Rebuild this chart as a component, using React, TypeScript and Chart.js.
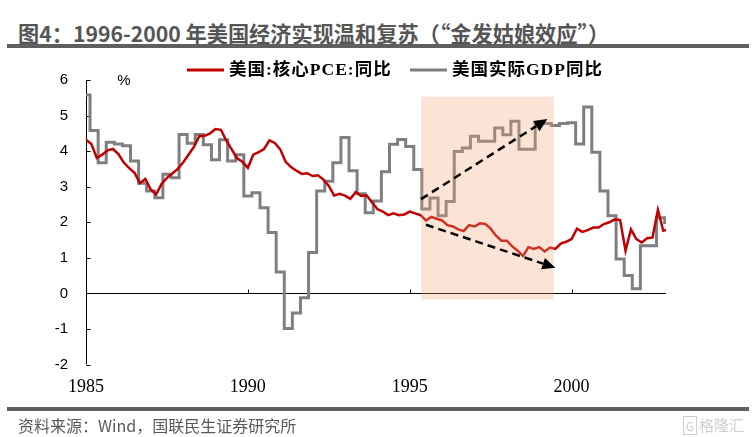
"use client";

import React, { useEffect, useRef } from "react";
import { Chart, registerables, type ChartConfiguration, type Plugin } from "chart.js";

Chart.register(...registerables);

// core PCE yoy (%), one reading every two months starting Jan 1985
const pceFirstYear = 1985;
const pceValues = [
  4.32, 4.2, 3.81, 3.9, 4.02, 4.06,
  3.92, 3.68, 3.52, 3.39, 3.1, 3.22,
  2.92, 2.78, 3.08, 3.25, 3.37, 3.5,
  3.68, 3.9, 4.12, 4.42, 4.43, 4.5,
  4.62, 4.6, 4.3, 4.05, 3.8, 3.7,
  3.53, 3.9, 3.97, 4.06, 4.3, 4.23,
  4.05, 3.7, 3.55, 3.45, 3.36, 3.38,
  3.3, 3.32, 3.2, 3.02, 2.75, 2.8,
  2.75, 2.66, 2.85, 2.74, 2.76, 2.56,
  2.37, 2.3, 2.2, 2.25, 2.2, 2.22,
  2.3, 2.25, 2.2, 2.05, 2.15, 2.1,
  2.05, 1.92, 1.88, 1.8, 1.75, 1.92,
  1.88, 1.97, 1.95, 1.82, 1.62, 1.48,
  1.48, 1.32, 1.2, 1.05, 1.3, 1.25,
  1.3, 1.18, 1.29, 1.25, 1.4, 1.45,
  1.53, 1.82, 1.73, 1.78, 1.85, 1.85,
  1.95, 2.0, 2.08, 2.06, 1.2, 1.8,
  1.53, 1.43, 1.55, 1.57, 2.35, 1.76,
  1.8,
];

// real GDP yoy (%), quarterly starting 1984Q4
const gdpFirstYear = 1984;
const gdpFirstQuarter = 4;
const gdpValues = [
  5.58,
  4.58, 3.67, 4.25, 4.2,
  4.15, 3.72, 3.1, 2.88,
  2.69, 3.35, 3.25, 4.47,
  4.22, 4.47, 4.18, 3.76,
  4.32, 3.72, 3.9, 2.74,
  2.83, 2.41, 1.71, 0.6,
  -0.99, -0.55, -0.12, 1.15,
  2.88, 3.15, 3.67, 4.38,
  3.45, 2.8, 2.27, 2.6,
  3.42, 4.19, 4.33, 4.13,
  3.48, 2.37, 2.68, 2.18,
  2.58, 3.99, 4.09, 4.42,
  4.28, 4.28, 4.65, 4.46,
  4.84, 4.05, 4.05, 4.78,
  4.78, 4.72, 4.78, 4.8,
  4.2, 5.24, 3.97, 2.88,
  2.18, 0.97, 0.5, 0.13,
  1.34, 1.34, 2.13, 1.99,
];

const seriesNames = ["美国:核心PCE:同比", "美国实际GDP同比"];
const seriesColors = ["#C00000", "#7F7F7F"];

const xTickYears = [1985, 1990, 1995, 2000];
const xMin = 1985;
const xMax = 2002 + 11 / 12;
const yMin = -2;
const yMax = 6;

// shaded 1996-2000 window and the two trend arrows, in data units
const goldilocks = { start: 1995.35, end: 1999.45, low: -0.17, high: 5.53 };
const trendArrows = [
  { x0: 1995.35, y0: 2.65, x1: 1999.25, y1: 4.9 },
  { x0: 1995.5, y0: 1.93, x1: 1999.5, y1: 0.72 },
];

const pcePoints = pceValues.map((v, i) => ({ x: pceFirstYear + i / 6, y: v }));

// each quarter is plotted from the middle of its first month
const gdpStart = gdpFirstYear + (gdpFirstQuarter - 1) / 4 + 1 / 8;
const gdpPoints = gdpValues.map((v, i) => ({ x: gdpStart + i / 4, y: v }));
gdpPoints.push({ x: gdpStart + gdpValues.length / 4, y: gdpValues[gdpValues.length - 1] });

const cjk = '"Noto Sans CJK SC", sans-serif';

function drawArrow(ctx: CanvasRenderingContext2D, x0: number, y0: number, x1: number, y1: number) {
  const ang = Math.atan2(y1 - y0, x1 - x0);
  const head = 13;
  const half = 6;
  const bx = x1 - head * Math.cos(ang);
  const by = y1 - head * Math.sin(ang);
  ctx.strokeStyle = "#000";
  ctx.fillStyle = "#000";
  ctx.lineWidth = 2.5;
  ctx.setLineDash([8, 5]);
  ctx.beginPath();
  ctx.moveTo(x0, y0);
  ctx.lineTo(bx, by);
  ctx.stroke();
  ctx.setLineDash([]);
  ctx.beginPath();
  ctx.moveTo(x1, y1);
  ctx.lineTo(bx - half * Math.sin(ang), by + half * Math.cos(ang));
  ctx.lineTo(bx + half * Math.sin(ang), by - half * Math.cos(ang));
  ctx.closePath();
  ctx.fill();
}

const decorPlugin: Plugin<"line"> = {
  id: "decor",
  beforeDatasetsDraw(chart) {
    const { ctx, chartArea } = chart;
    const xs = chart.scales.x;
    const ys = chart.scales.y;
    ctx.save();
    ctx.strokeStyle = "#000";
    ctx.lineWidth = 1;
    const ax = Math.round(chartArea.left) + 0.5;
    ctx.beginPath();
    ctx.moveTo(ax, ys.getPixelForValue(yMax));
    ctx.lineTo(ax, ys.getPixelForValue(yMin));
    for (let v = yMin; v <= yMax; v++) {
      const py = Math.round(ys.getPixelForValue(v)) + 0.5;
      ctx.moveTo(ax, py);
      ctx.lineTo(ax + 4, py);
    }
    const zy = Math.round(ys.getPixelForValue(0)) + 0.5;
    ctx.moveTo(chartArea.left, zy);
    ctx.lineTo(chartArea.right, zy);
    xTickYears.forEach((yr) => {
      const px = Math.round(xs.getPixelForValue(yr)) + 0.5;
      ctx.moveTo(px, zy);
      ctx.lineTo(px, zy - 4);
    });
    ctx.stroke();
    ctx.fillStyle = "#000";
    ctx.font = '15px "Liberation Sans", Arial, sans-serif';
    ctx.textAlign = "center";
    ctx.textBaseline = "middle";
    ctx.fillText("%", 124, 81);
    ctx.restore();
  },
  afterDatasetsDraw(chart) {
    const { ctx } = chart;
    const xs = chart.scales.x;
    const ys = chart.scales.y;
    ctx.save();
    const bx0 = xs.getPixelForValue(goldilocks.start);
    const bx1 = xs.getPixelForValue(goldilocks.end);
    const by0 = ys.getPixelForValue(goldilocks.high);
    const by1 = ys.getPixelForValue(goldilocks.low);
    ctx.fillStyle = "rgba(242, 165, 118, 0.3)";
    ctx.fillRect(bx0, by0, bx1 - bx0, by1 - by0);
    trendArrows.forEach((a) =>
      drawArrow(
        ctx,
        xs.getPixelForValue(a.x0),
        ys.getPixelForValue(a.y0),
        xs.getPixelForValue(a.x1),
        ys.getPixelForValue(a.y1),
      ),
    );
    ctx.restore();
  },
  afterDraw(chart) {
    const { ctx } = chart;
    const starts = [187, 410];
    ctx.save();
    ctx.font = 'bold 17.5px "Liberation Serif", "Noto Sans CJK SC", serif';
    (ctx as any).letterSpacing = "1px";
    ctx.textBaseline = "middle";
    ctx.textAlign = "left";
    chart.data.datasets.forEach((ds, i) => {
      const x = starts[i];
      ctx.strokeStyle = ds.borderColor as string;
      ctx.lineWidth = 3;
      ctx.beginPath();
      ctx.moveTo(x, 70);
      ctx.lineTo(x + 37, 70);
      ctx.stroke();
      ctx.fillStyle = "#000";
      ctx.fillText(ds.label ?? "", x + 42, 70);
    });
    ctx.restore();
  },
};

export default function App() {
  const canvasRef = useRef<HTMLCanvasElement | null>(null);
  const chartRef = useRef<Chart<"line"> | null>(null);

  useEffect(() => {
    if (!canvasRef.current) return;

    const config: ChartConfiguration<"line"> = {
      type: "line",
      data: {
        datasets: [
          {
            label: seriesNames[0],
            data: pcePoints,
            borderColor: seriesColors[0],
            borderWidth: 2.5,
            pointRadius: 0,
            tension: 0,
          },
          {
            label: seriesNames[1],
            data: gdpPoints,
            borderColor: seriesColors[1],
            borderWidth: 3,
            pointRadius: 0,
            stepped: "before",
          },
        ],
      },
      options: {
        responsive: true,
        maintainAspectRatio: false,
        animation: false,
        layout: { padding: { top: 80, right: 86, bottom: 42.5, left: 0 } },
        plugins: {
          legend: { display: false },
          tooltip: { enabled: false },
        },
        scales: {
          x: {
            type: "linear",
            min: xMin,
            max: xMax,
            afterBuildTicks: (scale) => {
              scale.ticks = xTickYears.map((v) => ({ value: v }));
            },
            afterFit: (scale) => {
              scale.height = 30;
            },
            grid: { display: false, drawTicks: false },
            border: { display: false },
            ticks: {
              autoSkip: false,
              maxRotation: 0,
              padding: 12,
              color: "#000",
              font: { family: '"Liberation Serif", "Times New Roman", serif', size: 18 },
              callback: (v) => String(v),
            },
          },
          y: {
            min: yMin,
            max: yMax,
            afterFit: (scale) => {
              scale.width = 86;
            },
            grid: { display: false, drawTicks: false },
            border: { display: false },
            ticks: {
              stepSize: 1,
              padding: 18,
              color: "#000",
              font: { family: '"Liberation Sans", Arial, sans-serif', size: 15 },
            },
          },
        },
      },
      plugins: [decorPlugin],
    };

    chartRef.current = new Chart(canvasRef.current, config);

    return () => {
      chartRef.current?.destroy();
      chartRef.current = null;
    };
  }, []);

  return (
    <div style={{ position: "relative", width: 752, height: 437, background: "#fff", overflow: "hidden" }}>
      <style>{"body{margin:0}"}</style>
      <div
        style={{
          position: "absolute",
          left: 18,
          top: 19,
          fontFamily: cjk,
          fontSize: 21.2,
          fontWeight: 700,
          lineHeight: "28px",
          color: "#555",
          whiteSpace: "nowrap",
        }}
      >
        图4：1996-2000 年美国经济实现温和复苏（“金发姑娘效应”）
      </div>
      <div style={{ position: "absolute", left: 7, top: 44, width: 742, height: 4, background: "#5f5f5f" }} />
      <div style={{ position: "absolute", left: 0, top: 0, width: 752, height: 437 }}>
        <canvas ref={canvasRef} aria-label="美国核心PCE与实际GDP同比" />
      </div>
      <div style={{ position: "absolute", left: 7, top: 407, width: 742, height: 4, background: "#5f5f5f" }} />
      <div
        style={{
          position: "absolute",
          left: 18,
          top: 414,
          fontFamily: cjk,
          fontSize: 16,
          lineHeight: "22px",
          color: "#595959",
          whiteSpace: "nowrap",
        }}
      >
        资料来源：Wind，国联民生证券研究所
      </div>
      <div
        style={{
          position: "absolute",
          right: 8,
          top: 415,
          fontFamily: cjk,
          fontSize: 15,
          lineHeight: "20px",
          color: "#cfcfcf",
          whiteSpace: "nowrap",
        }}
      >
        <span style={{ border: "1.5px solid #cfcfcf", padding: "0 2px", marginRight: 2, fontSize: 12 }}>G</span>
        格隆汇
      </div>
    </div>
  );
}
